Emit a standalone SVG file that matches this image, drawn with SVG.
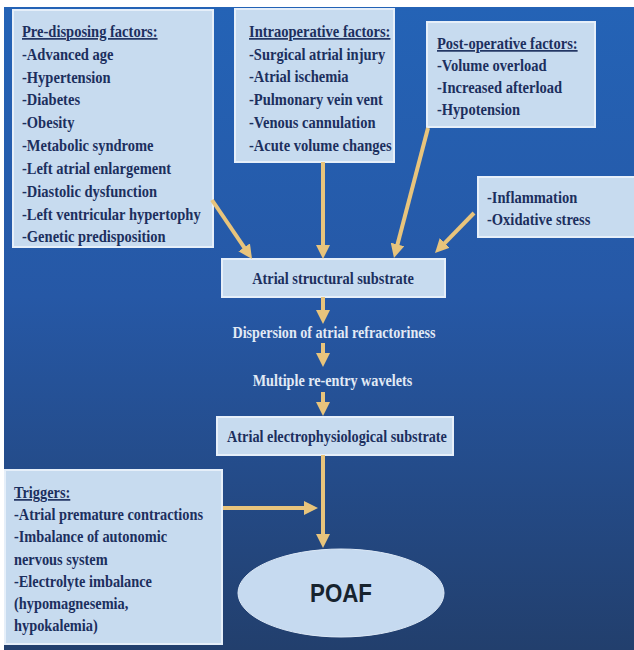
<svg xmlns="http://www.w3.org/2000/svg" width="634" height="650" viewBox="0 0 634 650">
  <defs>
    <linearGradient id="bg" x1="0" y1="0" x2="0" y2="1">
      <stop offset="0" stop-color="#2463b6"/>
      <stop offset="0.45" stop-color="#2658a6"/>
      <stop offset="1" stop-color="#223f6d"/>
    </linearGradient>
    <marker id="ah" markerUnits="userSpaceOnUse" markerWidth="14" markerHeight="14" refX="4" refY="7" orient="auto">
      <path d="M0,0 L14,7 L0,14 z" fill="#e8c47c"/>
    </marker>
    <style>
      .box { fill: #c7dbef; stroke: #e6eff9; stroke-width: 2; }
      .t { font-family: "Liberation Serif", "Times New Roman", serif; font-weight: bold; font-size: 16.5px; fill: #1c2f5e; }
      .h { text-decoration: underline; }
      .w { font-family: "Liberation Serif", "Times New Roman", serif; font-weight: bold; font-size: 16.5px; fill: #e2eaf5; }
      .c { text-anchor: middle; }
      .arr { stroke: #e8c47c; stroke-width: 4; fill: none; marker-end: url(#ah); }
      .poaf { font-family: "Liberation Sans", Arial, sans-serif; font-weight: bold; font-size: 25px; fill: #17232e; }
    </style>
  </defs>

  <rect x="0" y="0" width="634" height="650" fill="#ffffff"/>
  <rect x="4" y="7" width="630" height="643" fill="url(#bg)"/>

  <g id="predisposing">
    <rect class="box" x="13" y="10" width="200" height="237"/>
    <g transform="translate(22 0) scale(0.88 1)">
      <text class="t h" x="0" y="37">Pre-disposing factors:</text>
      <text class="t" x="0" y="60">-Advanced age</text>
      <text class="t" x="0" y="83">-Hypertension</text>
      <text class="t" x="0" y="105">-Diabetes</text>
      <text class="t" x="0" y="128">-Obesity</text>
      <text class="t" x="0" y="151">-Metabolic syndrome</text>
      <text class="t" x="0" y="174">-Left atrial enlargement</text>
      <text class="t" x="0" y="197">-Diastolic dysfunction</text>
      <text class="t" x="0" y="220">-Left ventricular hypertophy</text>
      <text class="t" x="0" y="242">-Genetic predisposition</text>
    </g>
  </g>

  <g id="intraoperative">
    <rect class="box" x="235" y="9" width="159" height="153"/>
    <g transform="translate(249 0) scale(0.88 1)">
      <text class="t h" x="0" y="37">Intraoperative factors:</text>
      <text class="t" x="0" y="60">-Surgical atrial injury</text>
      <text class="t" x="0" y="82">-Atrial ischemia</text>
      <text class="t" x="0" y="105">-Pulmonary vein vent</text>
      <text class="t" x="0" y="128">-Venous cannulation</text>
      <text class="t" x="0" y="151">-Acute volume changes</text>
    </g>
  </g>

  <g id="postoperative">
    <rect class="box" x="427" y="22" width="168" height="105"/>
    <g transform="translate(437 0) scale(0.88 1)">
      <text class="t h" x="0" y="49">Post-operative factors:</text>
      <text class="t" x="0" y="71">-Volume overload</text>
      <text class="t" x="0" y="93">-Increased afterload</text>
      <text class="t" x="0" y="115">-Hypotension</text>
    </g>
  </g>

  <g id="inflammation">
    <rect class="box" x="478" y="177" width="160" height="60"/>
    <g transform="translate(487 0) scale(0.88 1)">
      <text class="t" x="0" y="203">-Inflammation</text>
      <text class="t" x="0" y="225">-Oxidative stress</text>
    </g>
  </g>

  <g id="structural">
    <rect class="box" x="222" y="259" width="223" height="38"/>
    <text class="t c" transform="translate(333 284) scale(0.87 1)" x="0" y="0">Atrial structural substrate</text>
  </g>

  <g id="dispersion">
    <text class="w c" transform="translate(334 338) scale(0.855 1)" x="0" y="0">Dispersion of atrial refractoriness</text>
  </g>

  <g id="reentry">
    <text class="w c" transform="translate(332.5 386) scale(0.86 1)" x="0" y="0">Multiple re-entry wavelets</text>
  </g>

  <g id="electrophysiological">
    <rect class="box" x="217" y="417" width="236" height="38"/>
    <text class="t c" transform="translate(337 442) scale(0.865 1)" x="0" y="0">Atrial electrophysiological substrate</text>
  </g>

  <g id="triggers">
    <rect class="box" x="5" y="470" width="217" height="174"/>
    <g transform="translate(14 0) scale(0.87 1)">
      <text class="t h" x="0" y="498">Triggers:</text>
      <text class="t" x="0" y="520">-Atrial premature contractions</text>
      <text class="t" x="0" y="542">-Imbalance of autonomic</text>
      <text class="t" x="0" y="565">nervous system</text>
      <text class="t" x="0" y="587">-Electrolyte imbalance</text>
      <text class="t" x="0" y="609">(hypomagnesemia,</text>
      <text class="t" x="0" y="631">hypokalemia)</text>
    </g>
  </g>

  <g id="poaf">
    <ellipse cx="341" cy="593" rx="103" ry="44" fill="#c6daf0" stroke="#dce8f6" stroke-width="1"/>
    <text class="poaf" x="310" y="602" textLength="62" lengthAdjust="spacingAndGlyphs">POAF</text>
  </g>

  <g id="connectors">
    <line class="arr" x1="212" y1="200" x2="246.4" y2="250.7"/>
    <line class="arr" x1="323" y1="162" x2="323" y2="249"/>
    <line class="arr" x1="428" y1="128" x2="396.5" y2="248.3"/>
    <line class="arr" x1="474" y1="213" x2="442" y2="245.8"/>
    <line class="arr" x1="323" y1="297" x2="323" y2="314"/>
    <line class="arr" x1="323" y1="343" x2="323" y2="357"/>
    <line class="arr" x1="323" y1="392" x2="323" y2="406"/>
    <line class="arr" x1="323" y1="455" x2="323" y2="538"/>
    <line class="arr" x1="223" y1="508" x2="308" y2="508"/>
  </g>
</svg>
